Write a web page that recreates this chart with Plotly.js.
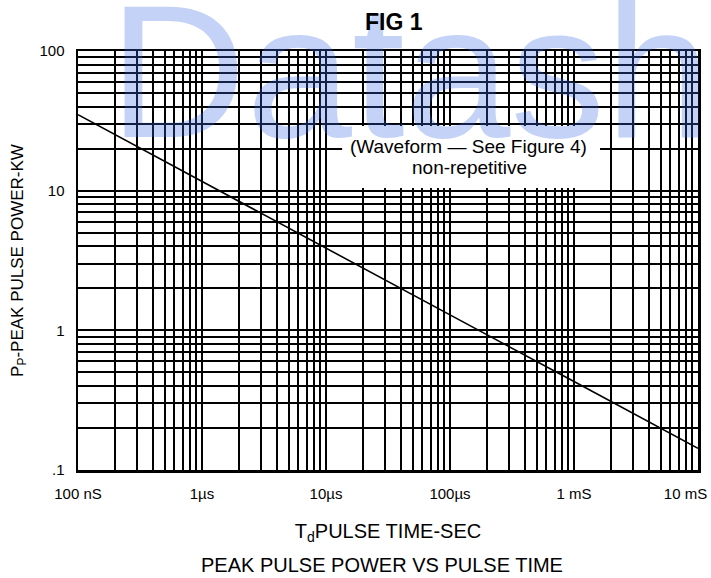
<!DOCTYPE html>
<html><head><meta charset="utf-8">
<script src="https://cdn.plot.ly/plotly-3.0.1.min.js"></script>
<style>html,body{margin:0;padding:0;background:#fff}</style>
</head><body><div id="chart" style="width:711px;height:578px"></div>
<script>
// Data (log-log, pulse time in seconds vs peak power in kW)
const pulseTime = [1e-7, 1e-6, 1e-5, 1e-4, 1e-3, 1e-2];
const peakPowerKW = [35, 11.6, 3.87, 1.29, 0.43, 0.143];

const xDecades = [1e-7, 1e-6, 1e-5, 1e-4, 1e-3, 1e-2];
const xDecadeLabels = ['100 nS', '1\u00b5s', '10\u00b5s', '100\u00b5s', '1 mS',
  '10 mS<span style="color:rgba(0,0,0,0)">mm</span>'];
const yDecades = [0.1, 1, 10, 100];
const yDecadeLabels = ['.1', '1', '10', '100'];

function gridTicks(decades, labels) {
  const vals = [], text = [];
  for (let i = 0; i < decades.length; i++) {
    vals.push(decades[i]); text.push(labels[i]);
    if (i < decades.length - 1) {
      for (let d = 2; d <= 9; d++) { vals.push(decades[i] * d); text.push(''); }
    }
  }
  return {vals, text};
}
const xg = gridTicks(xDecades, xDecadeLabels);
const yg = gridTicks(yDecades, yDecadeLabels);

const FONT = 'Liberation Sans, Arial, sans-serif';

const trace = {
  x: pulseTime, y: peakPowerKW, type: 'scatter', mode: 'lines',
  line: {color: '#000', width: 1.6}, hoverinfo: 'skip', showlegend: false
};

const axisCommon = {
  type: 'log', tickmode: 'array', showgrid: true, gridcolor: '#000', gridwidth: 2,
  showline: true, linecolor: '#000', linewidth: 2.5, mirror: true, ticks: '',
  zeroline: false, ticklabeloverflow: 'allow',
  tickfont: {family: FONT, size: 15, color: '#000'}
};

const layout = {
  width: 711, height: 578,
  margin: {l: 78, r: 13, t: 51, b: 108},
  paper_bgcolor: '#fff', plot_bgcolor: '#fff',
  xaxis: Object.assign({}, axisCommon, {
    range: [-7, -2], tickvals: xg.vals, ticktext: xg.text, ticklabelstandoff: 8,
    title: {text: 'T<sub>d</sub>PULSE TIME-SEC', font: {family: FONT, size: 20, color: '#000'}, standoff: 24}
  }),
  yaxis: Object.assign({}, axisCommon, {
    range: [-1, 2], tickvals: yg.vals, ticktext: yg.text, ticklabelstandoff: 8,
    title: {text: 'P<sub>P</sub>-PEAK PULSE POWER-KW', font: {family: FONT, size: 17, color: '#000'}, standoff: 12}
  }),
  shapes: [
    {type: 'rect', xref: 'paper', yref: 'paper', x0: 0.426, x1: 0.842, y0: 0.673, y1: 0.821,
     fillcolor: '#fff', line: {width: 0}, layer: 'above'}
  ],
  annotations: [
    {text: 'Datash', xref: 'paper', yref: 'paper', x: 0.047, y: 0.952, xanchor: 'left', yanchor: 'middle',
     showarrow: false, font: {family: FONT, size: 190, color: 'rgba(55,105,225,0.30)'}},
    {text: 'FIG 1', xref: 'paper', yref: 'paper', x: 0.51, y: 1.069, xanchor: 'center', yanchor: 'middle',
     showarrow: false, font: {family: FONT, size: 23, color: '#000', weight: 'bold'}},
    {text: '(Waveform \u2014 See Figure 4)', xref: 'paper', yref: 'paper',
     x: 0.630, y: 0.771, xanchor: 'center', yanchor: 'middle', showarrow: false,
     font: {family: FONT, size: 19, color: '#000'}},
    {text: 'non-repetitive', xref: 'paper', yref: 'paper',
     x: 0.632, y: 0.721, xanchor: 'center', yanchor: 'middle', showarrow: false,
     font: {family: FONT, size: 19, color: '#000'}},
    {text: 'PEAK PULSE POWER VS PULSE TIME', xref: 'paper', yref: 'paper', x: 0.49, y: -0.226,
     xanchor: 'center', yanchor: 'middle', showarrow: false,
     font: {family: FONT, size: 20, color: '#000'}}
  ]
};

Plotly.newPlot('chart', [trace], layout, {displayModeBar: false, staticPlot: true});
</script></body></html>
